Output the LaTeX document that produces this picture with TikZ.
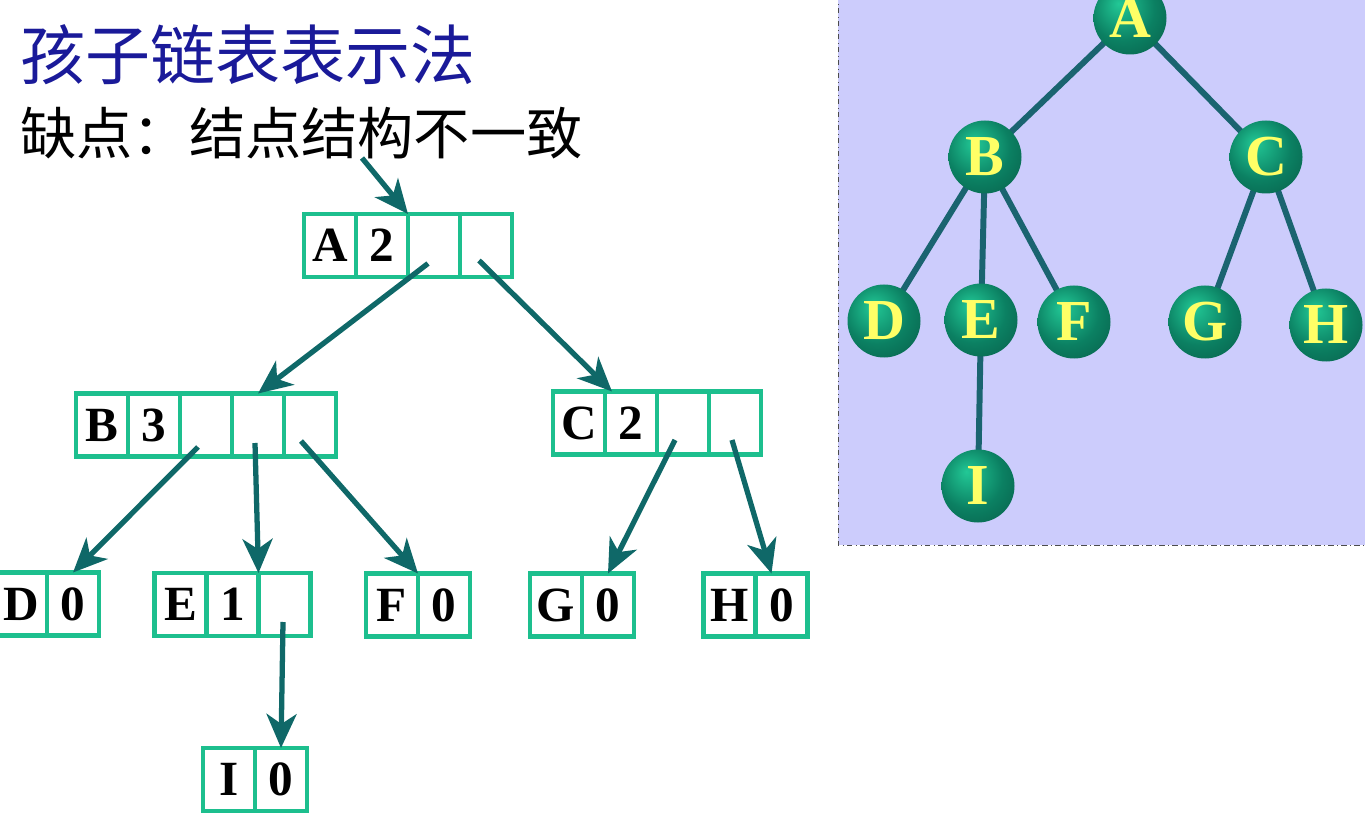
\documentclass[tikz,border=0pt]{standalone}
\usepackage{fontspec}
\setmainfont{Liberation Serif}
\newfontfamily\cjk{Noto Sans CJK SC}
\usepackage{xcolor}
\usepackage{tikz}
\usetikzlibrary{arrows.meta,positioning,calc}
\definecolor{cellcol}{HTML}{1DBF8E}
\definecolor{ptrcol}{HTML}{0F6868}
\definecolor{titlecol}{HTML}{1A1A99}
\definecolor{panelbg}{HTML}{CCCCFC}
\definecolor{edgecol}{HTML}{1A6470}
\definecolor{letcol}{HTML}{FFFF66}
\definecolor{spherehi}{HTML}{22C896}
\definecolor{spheremid}{HTML}{0B8062}
\definecolor{spherelo}{HTML}{06503F}
\pgfdeclareradialshading{sphere}{\pgfpoint{-8bp}{10bp}}{color(0bp)=(spherehi);
  color(22bp)=(spheremid); color(48bp)=(spherelo); color(60bp)=(spherelo)}

\begin{document}
\begin{tikzpicture}[
  cell/.style={draw=cellcol,line width=2.6pt,fill=white,minimum width=1.04cm,
    minimum height=1.26cm,inner sep=0pt,outer sep=0pt,
    font=\fontsize{28}{28}\selectfont\bfseries},
  ptr/.style={ptrcol,line width=3pt,
    -{Stealth[length=0.68cm,width=0.6cm,inset=0.2cm]}},
  sph/.style={circle,minimum size=1.46cm,inner sep=0pt,shading=sphere,
    text=letcol,font=\fontsize{33}{33}\selectfont\bfseries},
  tedge/.style={edgecol,line width=3.4pt},
]
\useasboundingbox (0,0) rectangle (27.3,-16.4);

% headings
\node[anchor=west,inner sep=0pt,text=titlecol,font=\cjk\fontsize{37}{37}\selectfont]
  (title) at (0.4,-1.1) {孩子链表表示法};
\node[anchor=west,inner sep=0pt,font=\cjk\fontsize{32}{32}\selectfont]
  (sub) at (0.4,-2.66) {缺点：结点结构不一致};

% child-list records
\node[cell] (a1) at (6.6,-4.91) {A};
\node[cell,right=0pt of a1] (a2) {2};
\node[cell,right=0pt of a2] (a3) {};
\node[cell,right=0pt of a3] (a4) {};

\node[cell] (b1) at (2.04,-8.5) {B};
\node[cell,right=0pt of b1] (b2) {3};
\node[cell,right=0pt of b2] (b3) {};
\node[cell,right=0pt of b3] (b4) {};
\node[cell,right=0pt of b4] (b5) {};

\node[cell] (c1) at (11.58,-8.46) {C};
\node[cell,right=0pt of c1] (c2) {2};
\node[cell,right=0pt of c2] (c3) {};
\node[cell,right=0pt of c3] (c4) {};

\node[cell] (d1) at (0.42,-12.08) {D};
\node[cell,right=0pt of d1] (d2) {0};

\node[cell] (e1) at (3.61,-12.09) {E};
\node[cell,right=0pt of e1] (e2) {1};
\node[cell,right=0pt of e2] (e3) {};

\node[cell] (f1) at (7.84,-12.1) {F};
\node[cell,right=0pt of f1] (f2) {0};

\node[cell] (g1) at (11.12,-12.1) {G};
\node[cell,right=0pt of g1] (g2) {0};

\node[cell] (h1) at (14.59,-12.1) {H};
\node[cell,right=0pt of h1] (h2) {0};

\node[cell] (i1) at (4.58,-15.59) {I};
\node[cell,right=0pt of i1] (i2) {0};

% pointers
\coordinate (entry) at (7.24,-3.16);
\draw[ptr] (entry) -- (a2.north east);
\draw[ptr] ([shift={(-0.12,-0.36)}]a3.center) -- (b4.north);
\draw[ptr] ([shift={(-0.14,-0.3)}]a4.center) -- ([xshift=0.14cm]c1.north east);
\draw[ptr] ([shift={(-0.16,-0.44)}]b3.center) -- (d2.north);
\draw[ptr] ([shift={(-0.06,-0.36)}]b4.center) -- (e2.north east);
\draw[ptr] ([shift={(-0.18,-0.32)}]b5.center) -- (f1.north east);
\draw[ptr] ([shift={(-0.16,-0.34)}]c3.center) -- (g2.north);
\draw[ptr] ([shift={(-0.06,-0.34)}]c4.center) -- ([xshift=-0.2cm]h2.north);
\draw[ptr] ([shift={(-0.03,-0.35)}]e3.center) -- (i2.north);

% the tree
\fill[panelbg] (16.76,0.1) rectangle (27.4,-10.9);
\draw[black!70,thin,dash dot] (16.76,0.1) -- (16.76,-10.9) -- (27.4,-10.9);

\coordinate (pA) at (22.6,-0.36);
\coordinate (pB) at (19.7,-3.14);
\coordinate (pC) at (25.32,-3.14);
\coordinate (pD) at (17.68,-6.42);
\coordinate (pE) at (19.62,-6.4);
\coordinate (pF) at (21.48,-6.44);
\coordinate (pG) at (24.1,-6.44);
\coordinate (pH) at (26.52,-6.5);
\coordinate (pI) at (19.56,-9.72);
\draw[tedge] (pA) -- (pB);
\draw[tedge] (pA) -- (pC);
\draw[tedge] (pB) -- (pD);
\draw[tedge] (pB) -- (pE);
\draw[tedge] (pB) -- (pF);
\draw[tedge] (pC) -- (pG);
\draw[tedge] (pC) -- (pH);
\draw[tedge] (pE) -- (pI);

\node[sph] (tA) at (pA) {A};
\node[sph] (tB) at (pB) {B};
\node[sph] (tC) at (pC) {C};
\node[sph] (tD) at (pD) {D};
\node[sph] (tE) at (pE) {E};
\node[sph] (tF) at (pF) {F};
\node[sph] (tG) at (pG) {G};
\node[sph] (tH) at (pH) {H};
\node[sph] (tI) at (pI) {I};
\end{tikzpicture}
\end{document}
